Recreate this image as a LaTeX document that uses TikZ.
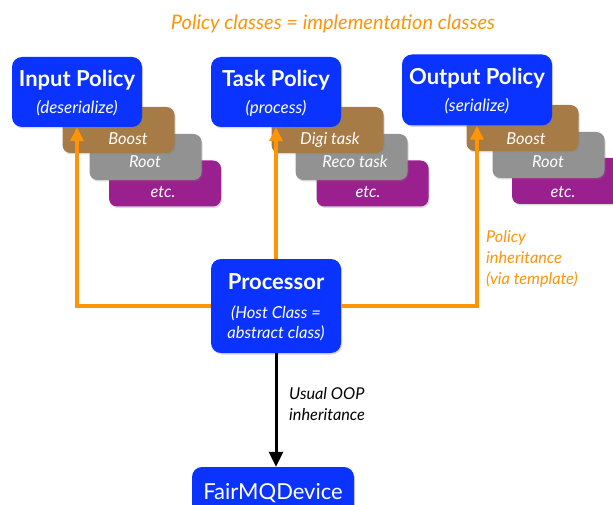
\documentclass[tikz,border=0pt]{standalone}
\usepackage{fontspec}
\setmainfont{Lato}
\usetikzlibrary{arrows.meta,shadows}
\definecolor{polblue}{HTML}{0A33FF}
\definecolor{boostbrown}{HTML}{A67B45}
\definecolor{rootgray}{HTML}{929292}
\definecolor{etcpurple}{HTML}{9A208F}
\definecolor{inhorange}{HTML}{FF9408}
\newcommand{\clstitle}[1]{{\fontsize{22}{24}\selectfont\bfseries\upshape #1}}
\begin{document}
\begin{tikzpicture}[x=1pt,y=-1pt,
  policy/.style={rectangle,rounded corners=10pt,fill=polblue,text=white,align=center,inner sep=0pt,text depth=0pt,
    font=\fontsize{17}{27}\selectfont\itshape,drop shadow={shadow xshift=1pt,shadow yshift=-1.5pt,opacity=.3}},
  impl/.style={rectangle,rounded corners=8pt,minimum width=112pt,minimum height=46pt,inner sep=0pt,
    drop shadow={shadow xshift=1pt,shadow yshift=-1.5pt,opacity=.3}},
  impltext/.style={anchor=base,text=white,inner sep=0pt,font=\fontsize{16.5}{18}\selectfont\itshape},
  note/.style={anchor=west,align=left,inner sep=0pt,font=\fontsize{16.3}{21}\selectfont\itshape},
  inh/.style={draw=inhorange,line width=3.5pt,-{Triangle[width=13pt,length=14pt]}},
  oop/.style={draw=black,line width=3pt,-{Triangle[width=14pt,length=15pt]}}]
\useasboundingbox (0,0) rectangle (613,505);
\node (title) at (333,30) [anchor=base,inner sep=0pt,text=inhorange,font=\fontsize{20}{22}\selectfont\itshape] {Policy classes = implementation classes};

\node (inetc) at (165,183.5) [impl,fill=etcpurple] {};
\node (inetct) at (163,198) [impltext] {etc.};
\node (inroot) at (145.5,157) [impl,fill=rootgray] {};
\node (inroott) at (145,168) [impltext] {Root};
\node (inboost) at (118.5,130) [impl,fill=boostbrown] {};
\node (inboostt) at (128,145) [impltext] {Boost};
\node (inpol) at (77,92) [policy,minimum width=130pt,minimum height=70pt] {\clstitle{Input Policy}\\(deserialize)};

\node (tasketc) at (372.5,183.5) [impl,fill=etcpurple] {};
\node (tasketct) at (368,198) [impltext] {etc.};
\node (reco) at (351.5,157) [impl,fill=rootgray] {};
\node (recot) at (355,168) [impltext] {Reco task};
\node (digi) at (327.5,130) [impl,fill=boostbrown] {};
\node (digit) at (330,145) [impltext] {Digi task};
\node (taskpol) at (276,92) [policy,minimum width=130pt,minimum height=70pt] {\clstitle{Task Policy}\\(process)};

\node (outetc) at (568,181) [impl,fill=etcpurple] {};
\node (outetct) at (563,198) [impltext] {etc.};
\node (outroot) at (548.5,155) [impl,fill=rootgray] {};
\node (outroott) at (548,168) [impltext] {Root};
\node (outboost) at (522.5,128) [impl,fill=boostbrown] {};
\node (outboostt) at (526,145) [impltext] {Boost};
\node (outpol) at (477,90) [policy,minimum width=150pt,minimum height=71pt] {\clstitle{Output Policy}\\(serialize)};

\node (proc) at (276,306) [policy,minimum width=130pt,minimum height=94pt,font=\fontsize{16.5}{20}\selectfont\itshape] {\clstitle{Processor}\\[9pt](Host Class =\\abstract class)};
\node (fair) at (273,491) [policy,minimum width=162pt,minimum height=48pt] {{\fontsize{22}{24}\selectfont\upshape FairMQDevice}};

\draw[inh] (proc.west) -| (inpol.south);
\draw[inh] (proc.north) -- (taskpol.south);
\draw[inh] (proc.east) -| (outpol.south);
\draw[oop] (proc.south) -- (proc.south |- fair.north);

\node (polinh) at (486,259) [note,text=inhorange] {Policy\\inheritance\\(via template)};
\node (oopinh) at (289,404) [note] {Usual OOP\\inheritance};
\end{tikzpicture}
\end{document}
